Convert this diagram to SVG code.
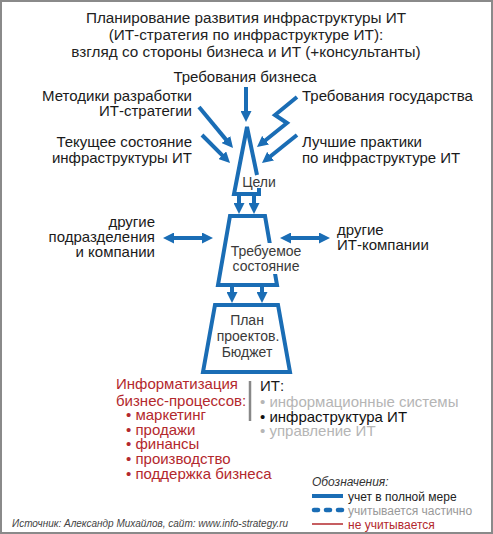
<svg xmlns="http://www.w3.org/2000/svg" width="493" height="534" viewBox="0 0 493 534">
<defs>
<marker id="ah" viewBox="0 0 10 10" refX="3" refY="5" markerWidth="11" markerHeight="11" markerUnits="userSpaceOnUse" orient="auto-start-reverse"><path d="M0,0 L10,5 L0,10 z" fill="#1a6db5"/></marker>
<style>
text{font-family:"Liberation Sans",Arial,sans-serif}
.ln{fill:none;stroke:#1a6db5;stroke-width:4}
.arr{marker-end:url(#ah)}
.dbl{marker-start:url(#ah);marker-end:url(#ah)}
.shape{fill:#fff;stroke:#1a6db5;stroke-width:4;stroke-linejoin:miter}
.t{font-size:15.3px;fill:#222;text-anchor:middle}
.lbl{font-size:15px;fill:#1a1a1a}
.r{text-anchor:end}
.nd{font-size:14px;fill:#3a3a3a;text-anchor:middle}
.red{font-size:15px;fill:#b3282d}
.it{font-size:15px}
.lg{font-size:12px}
</style>
</defs>
<rect x="1" y="1" width="491" height="532" fill="#fff" stroke="#8a8a8a" stroke-width="2"/>
<g id="title">
<text class="t" x="246" y="23">Планирование развития инфраструктуры ИТ</text>
<text class="t" x="246" y="40">(ИТ-стратегия по инфраструктуре ИТ):</text>
<text class="t" x="246" y="57">взгляд со стороны бизнеса и ИТ (+консультанты)</text>
</g>
<g id="inputs">
<text class="lbl" x="245" y="82" text-anchor="middle">Требования бизнеса</text>
<text class="lbl r" x="192" y="101">Методики разработки</text>
<text class="lbl r" x="192" y="116">ИТ-стратегии</text>
<text class="lbl r" x="192" y="147">Текущее состояние</text>
<text class="lbl r" x="192" y="163">инфраструктуры ИТ</text>
<text class="lbl" x="302" y="101">Требования государства</text>
<text class="lbl" x="302" y="147">Лучшие практики</text>
<text class="lbl" x="302" y="163">по инфраструктуре ИТ</text>
<text class="lbl r" x="155" y="227">другие</text>
<text class="lbl r" x="155" y="242">подразделения</text>
<text class="lbl r" x="155" y="257">и компании</text>
<text class="lbl" x="337" y="235">другие</text>
<text class="lbl" x="337" y="250">ИТ-компании</text>
</g>
<g id="node-goals">
<path class="shape" style="fill:none" d="M257,175 L247,127 L234,194 L259,194 L259,188"/>
<text class="nd" x="259" y="187">Цели</text>
</g>
<g id="node-target">
<path class="shape" d="M230,216 L265,216 L277,285 L218,285 Z"/>
<rect x="229" y="243" width="76" height="31" fill="#fff"/>
<text class="nd" x="266" y="256">Требуемое</text>
<text class="nd" x="266" y="271">состояние</text>
</g>
<g id="node-plan">
<path class="shape" d="M215,305 L278,305 L290,372 L203,372 Z"/>
<text class="nd" x="247" y="325">План</text>
<text class="nd" x="248" y="341">проектов.</text>
<text class="nd" x="247" y="357">Бюджет</text>
</g>
<g id="connectors">
<line class="ln arr" x1="246" y1="87" x2="246" y2="114.3"/>
<line class="ln arr" x1="199" y1="107" x2="228.1" y2="142.1"/>
<line class="ln arr" x1="202" y1="135" x2="224.6" y2="157.6"/>
<polyline class="ln arr" points="297,97 275,115 287,123 263,142.2"/>
<line class="ln arr" x1="297" y1="135" x2="268" y2="158.2"/>
<line class="ln arr" x1="239" y1="194" x2="239" y2="206.3"/>
<line class="ln arr" x1="254" y1="194" x2="254" y2="206.3"/>
<line class="ln arr" x1="232" y1="285" x2="232" y2="295.3"/>
<line class="ln arr" x1="262" y1="285" x2="262" y2="295.3"/>
<line class="ln dbl" x1="170.7" y1="238" x2="205.3" y2="238"/>
<line class="ln dbl" x1="287.7" y1="238" x2="322.3" y2="238"/>
</g>
<g id="business">
<text class="red" x="116" y="389">Информатизация</text>
<text class="red" x="116" y="406">бизнес-процессов:</text>
<text class="red" x="126" y="420">• маркетинг</text>
<text class="red" x="126" y="435">• продажи</text>
<text class="red" x="126" y="449">• финансы</text>
<text class="red" x="126" y="464">• производство</text>
<text class="red" x="126" y="479">• поддержка бизнеса</text>
</g>
<line x1="250" y1="381" x2="250" y2="421" stroke="#888" stroke-width="2.5"/>
<g id="it">
<text class="it" x="260" y="391" fill="#1a1a1a">ИТ:</text>
<text class="it" x="260" y="407" fill="#b5b5b5">• информационные системы</text>
<text class="it" x="260" y="422" fill="#111">• инфраструктура ИТ</text>
<text class="it" x="260" y="436" fill="#b5b5b5">• управление ИТ</text>
</g>
<g id="legend">
<text class="lg" x="312" y="486" font-style="italic" fill="#333">Обозначения:</text>
<line x1="312" y1="496" x2="343" y2="496" stroke="#1a6db5" stroke-width="4"/>
<text class="lg" x="348" y="501" fill="#222">учет в полной мере</text>
<line x1="314" y1="510" x2="343" y2="510" stroke="#1a6db5" stroke-width="4.5" stroke-linecap="round" stroke-dasharray="4,8"/>
<text class="lg" x="348" y="515" fill="#999">учитывается частично</text>
<line x1="312" y1="524" x2="343" y2="524" stroke="#b3282d" stroke-width="1.5"/>
<text class="lg" x="348" y="529" fill="#b3282d">не учитывается</text>
</g>
<text x="12" y="527" font-size="10px" font-style="italic" fill="#444">Источник: Александр Михайлов, сайт: www.info-strategy.ru</text>
</svg>
